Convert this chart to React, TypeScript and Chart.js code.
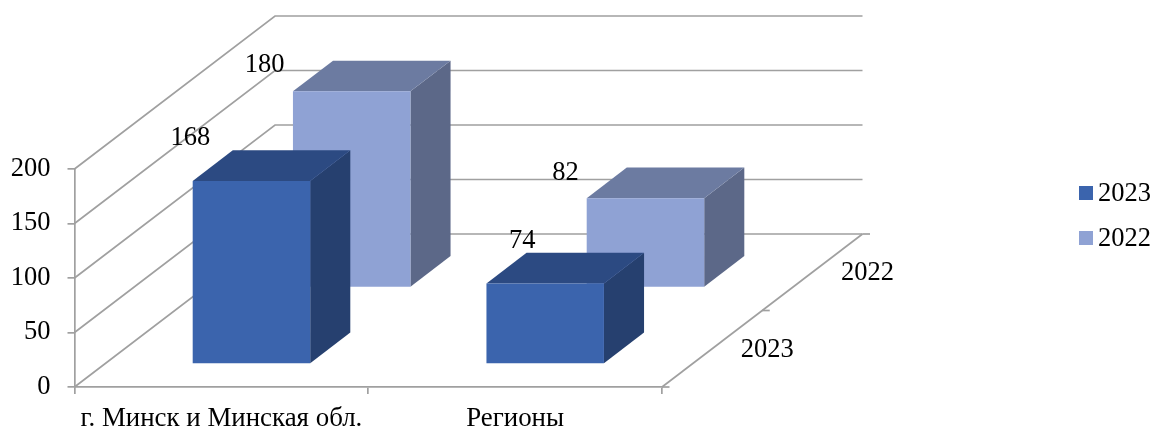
import React, { useEffect, useRef } from "react";
import { Chart, BarController, BarElement, CategoryScale, LinearScale } from "chart.js";

const categories = ["г. Минск и Минская обл.", "Регионы"];
const seriesNames = ["2023", "2022"];
const values2023 = [168, 74];
const values2022 = [180, 82];
const yMax = 200;
const yStep = 50;

// label nudges (px) relative to each bar's front-top centre
const labelNudges = [
  [[-61, -43], [-23, -42]],
  [[-87, -26], [-80, -25]],
];

const FONT = '"Liberation Serif", "Times New Roman", serif';
const FONT_SIZE = 26.5;
const GRID = "#a0a0a0";
const DEPTH_X = 200.5;
const DEPTH_Y = -153;
const ROW_START = [0.15, 0.65];
const ROW_DEPTH = 0.2;
const ROW_LABEL_AT = [0.25, 0.75];
const faces = [
  { front: "#3b64ad", side: "#26406f", top: "#2c4a82" },
  { front: "#8fa2d4", side: "#5c6888", top: "#6c7ba1" },
];

function poly(ctx: any, pts: number[][], fill: string) {
  ctx.beginPath();
  pts.forEach((p, i) => (i ? ctx.lineTo(p[0], p[1]) : ctx.moveTo(p[0], p[1])));
  ctx.closePath();
  ctx.fillStyle = fill;
  ctx.fill();
}

class Bar3DController extends BarController {
  static id = "bar3d";
  draw() {
    const ctx = (this as any).chart.ctx;
    const meta = (this as any)._cachedMeta;
    const di = (this as any).index;
    const sx = DEPTH_X * ROW_START[di];
    const sy = DEPTH_Y * ROW_START[di];
    const dx = DEPTH_X * ROW_DEPTH;
    const dy = DEPTH_Y * ROW_DEPTH;
    const c = faces[di];
    ctx.save();
    meta.data.forEach((el: any) => {
      const l = el.x - el.width / 2 + sx;
      const r = el.x + el.width / 2 + sx;
      const t = el.y + sy;
      const b = el.base + sy;
      poly(ctx, [[r, t], [r + dx, t + dy], [r + dx, b + dy], [r, b]], c.side);
      poly(ctx, [[l, t], [l + dx, t + dy], [r + dx, t + dy], [r, t]], c.top);
      poly(ctx, [[l, t], [r, t], [r, b], [l, b]], c.front);
    });
    ctx.restore();
  }
}

const walls3D = {
  id: "walls3D",
  beforeDatasetsDraw(chart: any) {
    const { ctx, chartArea: a, scales } = chart;
    ctx.save();
    ctx.strokeStyle = GRID;
    ctx.lineWidth = 1.7;
    const line = (pts: number[][]) => {
      ctx.beginPath();
      pts.forEach((p, i) => (i ? ctx.lineTo(p[0], p[1]) : ctx.moveTo(p[0], p[1])));
      ctx.stroke();
    };
    scales.y.ticks.forEach((t: any) => {
      const y = scales.y.getPixelForValue(t.value);
      line([[a.left, y], [a.left + DEPTH_X, y + DEPTH_Y], [a.right + DEPTH_X, y + DEPTH_Y]]);
    });
    line([[a.right, a.bottom], [a.right + DEPTH_X, a.bottom + DEPTH_Y]]);
    [0, 0.5, 1].forEach((f) => {
      const x = a.right + DEPTH_X * f;
      const y = a.bottom + DEPTH_Y * f;
      line([[x, y], [x + 7.5, y]]);
    });
    ctx.restore();
  },
  afterDatasetsDraw(chart: any) {
    const { ctx, chartArea: a } = chart;
    ctx.save();
    ctx.font = `${FONT_SIZE}px ${FONT}`;
    ctx.fillStyle = "#000";
    ctx.textBaseline = "middle";
    ctx.textAlign = "center";
    chart.data.datasets.forEach((ds: any, di: number) => {
      const meta = chart.getDatasetMeta(di);
      meta.data.forEach((el: any, i: number) => {
        const n = labelNudges[di][i];
        ctx.fillText(
          String(ds.data[i]),
          el.x + DEPTH_X * ROW_START[di] + n[0],
          el.y + DEPTH_Y * ROW_START[di] + n[1]
        );
      });
      const f = ROW_LABEL_AT[di];
      ctx.fillText(ds.label, a.right + DEPTH_X * f + 55, a.bottom + DEPTH_Y * f + 1);
    });
    // legend
    ctx.textAlign = "left";
    chart.data.datasets.forEach((ds: any, di: number) => {
      const y = 193 + di * 45;
      ctx.fillStyle = ds.backgroundColor;
      ctx.fillRect(1079, y - 7, 14, 14);
      ctx.fillStyle = "#000";
      ctx.fillText(ds.label, 1098, y + 1.5);
    });
    ctx.restore();
  },
};

Chart.register(Bar3DController, BarElement, CategoryScale, LinearScale);

export default function App() {
  const ref = useRef<HTMLCanvasElement>(null);
  useEffect(() => {
    const chart = new Chart(ref.current as HTMLCanvasElement, {
      type: "bar3d" as any,
      data: {
        labels: categories,
        datasets: [
          { label: seriesNames[0], data: values2023, backgroundColor: faces[0].front, clip: false },
          { label: seriesNames[1], data: values2022, backgroundColor: faces[1].front, clip: false },
        ],
      },
      plugins: [walls3D],
      options: {
        responsive: false,
        animation: false,
        events: [],
        grouped: false,
        categoryPercentage: 1,
        barPercentage: 0.4,
        layout: { padding: { top: 169, right: 490, left: 0, bottom: 0 } },
        plugins: { legend: { display: false }, tooltip: { enabled: false } },
        scales: {
          x: {
            type: "category",
            offset: true,
            afterFit: (s: any) => { s.height = 43; },
            grid: { drawOnChartArea: false, color: GRID, lineWidth: 1.7, tickLength: 7, offset: true },
            border: { color: GRID, width: 1.7 },
            ticks: { color: "#000", font: { family: FONT, size: 26.9 }, padding: 9, maxRotation: 0, autoSkip: false },
          },
          y: {
            type: "linear",
            min: 0,
            max: yMax,
            afterFit: (s: any) => { s.width = 74.5; },
            grid: { drawOnChartArea: false, color: GRID, lineWidth: 1.7, tickLength: 7 },
            border: { color: GRID, width: 1.7 },
            ticks: { stepSize: yStep, color: "#000", font: { family: FONT, size: FONT_SIZE }, padding: 17 },
          },
        },
      } as any,
    } as any);
    return () => chart.destroy();
  }, []);
  return (
    <div style={{ position: "absolute", left: 0, top: 0 }}>
      <canvas ref={ref} width={1152} height={430} style={{ display: "block" }} />
    </div>
  );
}
